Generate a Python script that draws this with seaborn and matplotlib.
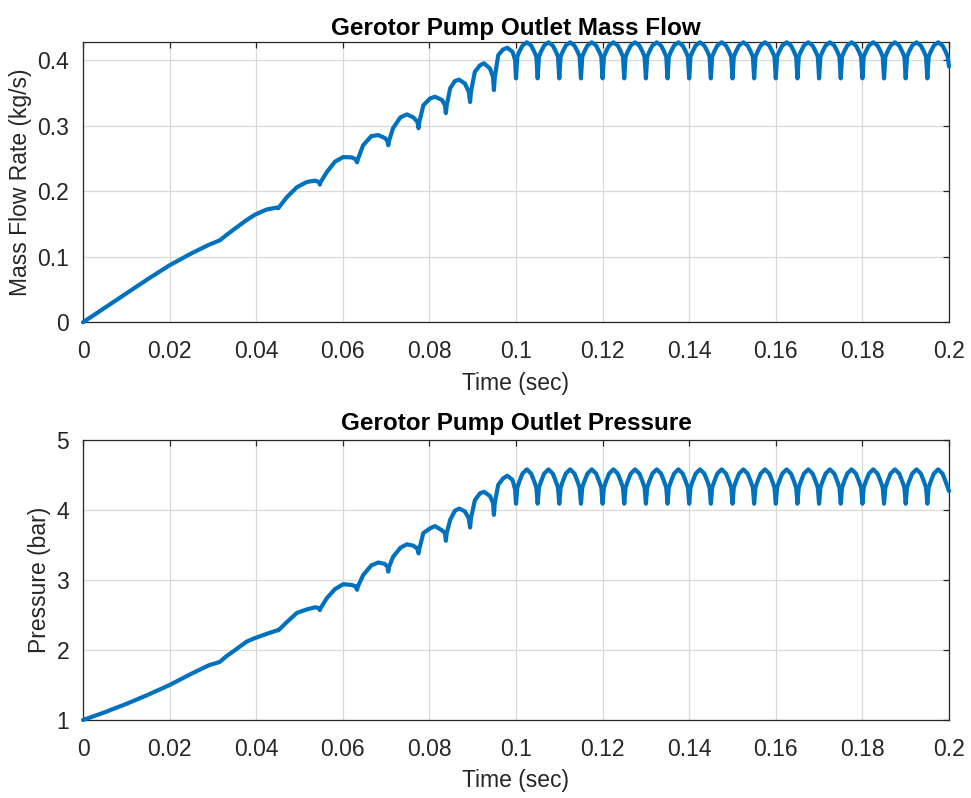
import pandas as pd
import matplotlib.pyplot as plt
import seaborn as sns

# ramp-up phase (pump accelerating)
time_ramp = [
    0.0000, 0.0050, 0.0100, 0.0150, 0.0200, 0.0250, 0.0290, 0.0316, 0.0331, 0.0347,
    0.0378, 0.0397, 0.0424, 0.0448, 0.0451, 0.0471, 0.0494, 0.0517, 0.0536, 0.0545,
    0.0547, 0.0549, 0.0563, 0.0582, 0.0601, 0.0620, 0.0629, 0.0633, 0.0635, 0.0647,
    0.0666, 0.0682, 0.0697, 0.0703, 0.0705, 0.0707, 0.0716, 0.0733, 0.0748, 0.0763,
    0.0772, 0.0775, 0.0777, 0.0786, 0.0802, 0.0813, 0.0829, 0.0836, 0.0838, 0.0840,
    0.0848, 0.0859, 0.0869, 0.0882, 0.0891, 0.0894, 0.0896, 0.0905, 0.0917, 0.0926,
    0.0940, 0.0947, 0.0949, 0.0951, 0.0959, 0.0970, 0.0980, 0.0992, 0.0998,
]
flow_ramp = [
    0.000, 0.022, 0.044, 0.066, 0.087, 0.105, 0.118, 0.125, 0.133, 0.141,
    0.156, 0.164, 0.172, 0.175, 0.174, 0.191, 0.206, 0.214, 0.216, 0.214,
    0.210, 0.214, 0.229, 0.245, 0.252, 0.2515, 0.249, 0.244, 0.249, 0.270,
    0.284, 0.2855, 0.281, 0.277, 0.270, 0.277, 0.296, 0.3125, 0.317, 0.3125,
    0.306, 0.296, 0.306, 0.331, 0.3415, 0.344, 0.339, 0.331, 0.319, 0.331,
    0.357, 0.368, 0.370, 0.364, 0.3515, 0.336, 0.3515, 0.382, 0.392, 0.395,
    0.387, 0.374, 0.354, 0.374, 0.4075, 0.416, 0.4186, 0.4125, 0.400,
]
pressure_ramp = [
    1.00, 1.11, 1.23, 1.36, 1.50, 1.66, 1.78, 1.83, 1.91, 1.98,
    2.12, 2.17, 2.23, 2.28, 2.28, 2.40, 2.53, 2.58, 2.61, 2.60,
    2.57, 2.60, 2.74, 2.87, 2.94, 2.93, 2.91, 2.86, 2.91, 3.07,
    3.21, 3.25, 3.23, 3.19, 3.12, 3.19, 3.33, 3.46, 3.51, 3.49,
    3.45, 3.38, 3.45, 3.67, 3.74, 3.77, 3.71, 3.67, 3.56, 3.67,
    3.86, 3.99, 4.02, 3.98, 3.88, 3.75, 3.88, 4.14, 4.24, 4.26,
    4.20, 4.10, 3.93, 4.10, 4.36, 4.45, 4.49, 4.43, 4.29,
]

# steady phase: one row per pumping cycle (dip, arc, next dip)
time_steady = [
    0.1000, 0.1003, 0.1008, 0.1015, 0.1025, 0.1035, 0.1042, 0.1047,
    0.1050, 0.1053, 0.1058, 0.1065, 0.1075, 0.1085, 0.1092, 0.1097,
    0.1100, 0.1103, 0.1108, 0.1115, 0.1125, 0.1135, 0.1142, 0.1147,
    0.1150, 0.1153, 0.1158, 0.1165, 0.1175, 0.1185, 0.1192, 0.1197,
    0.1200, 0.1203, 0.1208, 0.1215, 0.1225, 0.1235, 0.1242, 0.1247,
    0.1250, 0.1253, 0.1258, 0.1265, 0.1275, 0.1285, 0.1292, 0.1297,
    0.1300, 0.1303, 0.1308, 0.1315, 0.1325, 0.1335, 0.1342, 0.1347,
    0.1350, 0.1353, 0.1358, 0.1365, 0.1375, 0.1385, 0.1392, 0.1397,
    0.1400, 0.1403, 0.1408, 0.1415, 0.1425, 0.1435, 0.1442, 0.1447,
    0.1450, 0.1453, 0.1458, 0.1465, 0.1475, 0.1485, 0.1492, 0.1497,
    0.1500, 0.1503, 0.1508, 0.1515, 0.1525, 0.1535, 0.1542, 0.1547,
    0.1550, 0.1553, 0.1558, 0.1565, 0.1575, 0.1585, 0.1592, 0.1597,
    0.1600, 0.1603, 0.1608, 0.1615, 0.1625, 0.1635, 0.1642, 0.1647,
    0.1650, 0.1653, 0.1658, 0.1665, 0.1675, 0.1685, 0.1692, 0.1697,
    0.1700, 0.1703, 0.1708, 0.1715, 0.1725, 0.1735, 0.1742, 0.1747,
    0.1750, 0.1753, 0.1758, 0.1765, 0.1775, 0.1785, 0.1792, 0.1797,
    0.1800, 0.1803, 0.1808, 0.1815, 0.1825, 0.1835, 0.1842, 0.1847,
    0.1850, 0.1853, 0.1858, 0.1865, 0.1875, 0.1885, 0.1892, 0.1897,
    0.1900, 0.1903, 0.1908, 0.1915, 0.1925, 0.1935, 0.1942, 0.1947,
    0.1950, 0.1953, 0.1958, 0.1965, 0.1975, 0.1985, 0.1992, 0.1997,
    0.2000,
]
flow_steady = [
    0.372, 0.405, 0.413, 0.422, 0.427, 0.422, 0.413, 0.405,
    0.372, 0.405, 0.413, 0.422, 0.427, 0.422, 0.413, 0.405,
    0.372, 0.405, 0.413, 0.422, 0.427, 0.422, 0.413, 0.405,
    0.372, 0.405, 0.413, 0.422, 0.427, 0.422, 0.413, 0.405,
    0.372, 0.405, 0.413, 0.422, 0.427, 0.422, 0.413, 0.405,
    0.372, 0.405, 0.413, 0.422, 0.427, 0.422, 0.413, 0.405,
    0.372, 0.405, 0.413, 0.422, 0.427, 0.422, 0.413, 0.405,
    0.372, 0.405, 0.413, 0.422, 0.427, 0.422, 0.413, 0.405,
    0.372, 0.405, 0.413, 0.422, 0.427, 0.422, 0.413, 0.405,
    0.372, 0.405, 0.413, 0.422, 0.427, 0.422, 0.413, 0.405,
    0.372, 0.405, 0.413, 0.422, 0.427, 0.422, 0.413, 0.405,
    0.372, 0.405, 0.413, 0.422, 0.427, 0.422, 0.413, 0.405,
    0.372, 0.405, 0.413, 0.422, 0.427, 0.422, 0.413, 0.405,
    0.372, 0.405, 0.413, 0.422, 0.427, 0.422, 0.413, 0.405,
    0.372, 0.405, 0.413, 0.422, 0.427, 0.422, 0.413, 0.405,
    0.372, 0.405, 0.413, 0.422, 0.427, 0.422, 0.413, 0.405,
    0.372, 0.405, 0.413, 0.422, 0.427, 0.422, 0.413, 0.405,
    0.372, 0.405, 0.413, 0.422, 0.427, 0.422, 0.413, 0.405,
    0.372, 0.405, 0.413, 0.422, 0.427, 0.422, 0.413, 0.405,
    0.372, 0.405, 0.413, 0.422, 0.427, 0.422, 0.413, 0.405,
    0.390,
]
pressure_steady = [
    4.09, 4.32, 4.41, 4.52, 4.58, 4.52, 4.41, 4.32,
    4.09, 4.32, 4.41, 4.52, 4.58, 4.52, 4.41, 4.32,
    4.09, 4.32, 4.41, 4.52, 4.58, 4.52, 4.41, 4.32,
    4.09, 4.32, 4.41, 4.52, 4.58, 4.52, 4.41, 4.32,
    4.09, 4.32, 4.41, 4.52, 4.58, 4.52, 4.41, 4.32,
    4.09, 4.32, 4.41, 4.52, 4.58, 4.52, 4.41, 4.32,
    4.09, 4.32, 4.41, 4.52, 4.58, 4.52, 4.41, 4.32,
    4.09, 4.32, 4.41, 4.52, 4.58, 4.52, 4.41, 4.32,
    4.09, 4.32, 4.41, 4.52, 4.58, 4.52, 4.41, 4.32,
    4.09, 4.32, 4.41, 4.52, 4.58, 4.52, 4.41, 4.32,
    4.09, 4.32, 4.41, 4.52, 4.58, 4.52, 4.41, 4.32,
    4.09, 4.32, 4.41, 4.52, 4.58, 4.52, 4.41, 4.32,
    4.09, 4.32, 4.41, 4.52, 4.58, 4.52, 4.41, 4.32,
    4.09, 4.32, 4.41, 4.52, 4.58, 4.52, 4.41, 4.32,
    4.09, 4.32, 4.41, 4.52, 4.58, 4.52, 4.41, 4.32,
    4.09, 4.32, 4.41, 4.52, 4.58, 4.52, 4.41, 4.32,
    4.09, 4.32, 4.41, 4.52, 4.58, 4.52, 4.41, 4.32,
    4.09, 4.32, 4.41, 4.52, 4.58, 4.52, 4.41, 4.32,
    4.09, 4.32, 4.41, 4.52, 4.58, 4.52, 4.41, 4.32,
    4.09, 4.32, 4.41, 4.52, 4.58, 4.52, 4.41, 4.32,
    4.27,
]

x_ticks = [0, 0.02, 0.04, 0.06, 0.08, 0.1, 0.12, 0.14, 0.16, 0.18, 0.2]
x_tick_labels = ['0', '0.02', '0.04', '0.06', '0.08', '0.1',
                 '0.12', '0.14', '0.16', '0.18', '0.2']
flow_ticks = [0, 0.1, 0.2, 0.3, 0.4]
flow_tick_labels = ['0', '0.1', '0.2', '0.3', '0.4']
pressure_ticks = [1, 2, 3, 4, 5]
pressure_tick_labels = ['1', '2', '3', '4', '5']

df = pd.DataFrame({
    'time': time_ramp + time_steady,
    'flow': flow_ramp + flow_steady,
    'pressure': pressure_ramp + pressure_steady,
})

sns.set_style('white')
plt.rcParams['font.family'] = ['Liberation Sans', 'DejaVu Sans']

line_color = '#0072BD'
ink = '#262626'

fig = plt.figure(figsize=(9.71, 7.98), dpi=100)
ax1 = fig.add_axes([83 / 971, 1 - 322.3 / 798, 866 / 971, 280 / 798])
ax2 = fig.add_axes([83 / 971, 1 - 720 / 798, 866 / 971, 280 / 798])

panels = [
    (ax1, 'flow', 'Gerotor Pump Outlet Mass Flow', 'Mass Flow Rate (kg/s)',
     (0, 0.427), flow_ticks, flow_tick_labels, 5),
    (ax2, 'pressure', 'Gerotor Pump Outlet Pressure', 'Pressure (bar)',
     (1, 5), pressure_ticks, pressure_tick_labels, 7),
]

for ax, col, title, ylabel, ylim, yt, ytl, tpad in panels:
    sns.lineplot(data=df, x='time', y=col, ax=ax, color=line_color,
                 linewidth=3, estimator=None, sort=False)
    for ln in ax.lines:
        ln.set_clip_on(False)
        ln.set_zorder(3)

    ax.set_xlim(0, 0.2)
    ax.set_ylim(*ylim)
    ax.set_xticks(x_ticks)
    ax.set_xticklabels(x_tick_labels)
    ax.set_yticks(yt)
    ax.set_yticklabels(ytl)

    ax.grid(True, color='#d9d9d9', linewidth=0.9)
    ax.set_axisbelow(True)
    for s in ax.spines.values():
        s.set_visible(True)
        s.set_color(ink)
        s.set_linewidth(0.9)
    ax.tick_params(direction='in', top=True, right=True, length=4,
                   width=0.9, color=ink, labelcolor=ink, labelsize=16.5)
    ax.tick_params(axis='x', pad=13)
    ax.tick_params(axis='y', pad=10)

    ax.set_title(title, fontsize=17.5, fontweight='bold', color='black', pad=tpad)
    ax.set_xlabel('Time (sec)', fontsize=16.5, color=ink, labelpad=6)
    ax.set_ylabel(ylabel, fontsize=16.5, color=ink, labelpad=4)

fig.savefig('out.png', dpi=100)
